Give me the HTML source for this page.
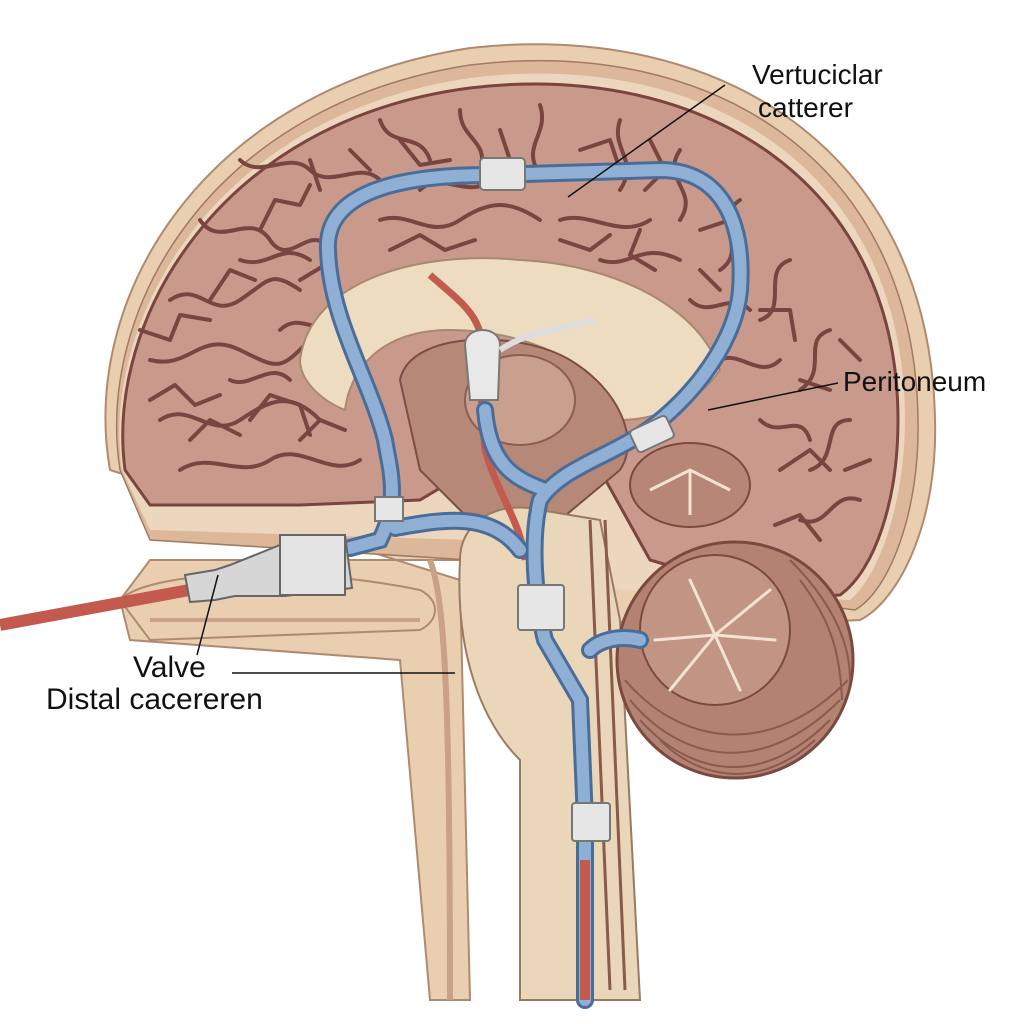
<!DOCTYPE html>
<html><head><meta charset="utf-8"><style>
html,body{margin:0;padding:0;background:#fff}
svg{display:block}
text{font-family:"Liberation Sans",sans-serif;fill:#111}
</style></head><body>
<svg width="1024" height="1024" viewBox="0 0 1024 1024" xmlns="http://www.w3.org/2000/svg">
<rect width="1024" height="1024" fill="#fff"/>
<path d="M110,470 C80,300 200,90 470,48 C720,20 930,150 935,420 C938,520 900,600 860,620 L640,630 L470,560 L150,560 L120,600 L130,640 L400,660 L430,1000 L470,1000 L460,580 Z" fill="#e9cfb0" stroke="#b08a70" stroke-width="2"/>
<path d="M120,470 C95,310 210,105 470,65 C710,35 915,160 918,420 C920,510 890,590 855,610 L470,560 L150,540 Z" fill="#dcb79a" stroke="#a07a62" stroke-width="1.5"/>
<path d="M122,470 C100,320 215,115 470,78 C705,48 905,170 905,420 C905,500 880,575 850,600 L620,590 L470,540 L150,530 Z" fill="#ecd6bd"/>
<path d="M125,470 C105,320 220,120 470,88 C700,60 898,180 898,420 C898,500 875,570 840,595 C780,600 720,580 650,560 L600,470 L470,470 L420,500 L300,505 L150,505 Z" fill="#c99a8c" stroke="#7a4540" stroke-width="3"/>
<g fill="none" stroke="#7a4540" stroke-width="4" stroke-linecap="round" stroke-linejoin="round">
<path d="M170,300 c30,-20 40,20 70,0 s30,-30 60,-10 M150,360 c40,10 50,-30 90,-10 s40,20 70,-10 M160,420 c30,-20 50,20 80,0 s50,-30 80,0"/>
<path d="M200,220 c20,30 50,-10 70,20 s40,-20 60,10 M240,160 c20,20 50,-10 70,10 s50,-10 70,10"/>
<path d="M380,120 c10,30 40,10 50,40 M460,110 c0,30 30,30 20,60 M540,105 c10,30 -20,40 0,70 M620,120 c-10,30 20,40 0,70"/>
<path d="M680,150 c-20,30 20,40 0,70 M740,200 c-30,20 10,50 -20,70 M790,260 c-30,10 0,50 -30,60 M830,330 c-30,10 0,40 -30,60 M850,420 c-30,0 -10,40 -40,50 M860,500 c-30,-10 -30,30 -60,20"/>
<path d="M180,470 c30,-20 60,10 90,-10 s60,20 90,0 M240,260 c30,10 40,-20 70,0 M280,330 c20,-20 40,10 60,-10 M230,380 c20,10 40,-20 60,0"/>
<path d="M560,220 c30,-10 60,20 90,0 M600,260 c30,10 40,-20 80,0 M690,300 c20,20 40,-10 60,10 M720,360 c20,-10 40,20 60,0 M760,420 c20,20 40,-10 50,20"/>
<path d="M380,220 c30,-10 50,20 80,0 s50,-20 80,0 M420,190 c20,-20 50,10 70,-10"/>
<path d="M140,330 l30,10 l10,-25 l30,5 M150,400 l25,-15 l20,20 l25,-10 M190,440 l20,-20 l30,15 M250,420 l20,-25 l30,10 l10,30 M300,440 l20,-20 l25,10"/>
<path d="M210,300 l20,-30 l25,10 M260,230 l15,-30 l25,5 l10,-20 M300,280 l25,-15 l15,25 M320,190 l-10,-30 M350,150 l20,20"/>
<path d="M400,140 l20,25 l30,-5 M500,130 l10,30 l-20,20 M580,150 l30,-10 l10,30 M650,140 l15,30 l-20,20 M700,230 l30,-10 l10,30 M760,310 l30,0 l5,30 M800,380 l30,10 M780,470 l30,-20 l20,20 M820,540 l-20,-25 l-25,10 M870,460 l-25,10 M860,360 l-20,-20"/>
<path d="M390,250 l30,-15 l25,15 l30,-10 M560,240 l30,10 l20,-15 M640,230 l-10,25 l25,15 M700,270 l20,20"/>
</g>
<path d="M300,360 C310,280 420,250 520,260 C620,265 700,310 720,370 C700,400 660,420 620,420 C600,360 520,330 450,330 C380,330 350,370 345,410 C320,400 300,380 300,360Z" fill="#eedcc0" stroke="#a98870" stroke-width="2"/>
<path d="M400,380 C410,330 520,330 570,360 C620,390 640,440 620,470 L560,520 L470,520 L420,470 Z" fill="#b58878" stroke="#7a4e44" stroke-width="2"/>
<ellipse cx="520" cy="400" rx="55" ry="45" fill="#c9a08e" stroke="#8a5e52" stroke-width="2"/>
<path d="M460,560 C460,520 500,500 540,510 L600,520 L620,620 L640,1000 L520,1000 L520,760 C480,720 455,650 460,560Z" fill="#ead6b8" stroke="#9a7a60" stroke-width="2"/>
<path d="M590,520 L610,990 M605,520 L625,990" stroke="#8a5a4a" stroke-width="3"/>
<path d="M430,560 C445,600 450,700 450,1000" stroke="#c9a088" stroke-width="6" fill="none"/>
<circle cx="735" cy="660" r="118" fill="#b48272" stroke="#7a4a40" stroke-width="3"/>
<g stroke="#8a5a4e" stroke-width="2" fill="none">
<path d="M630,700 C680,760 760,780 840,700 M625,680 C680,745 770,760 848,680 M640,720 C690,775 760,790 830,720 M660,740 C700,780 760,790 815,740 M790,560 C830,600 850,640 850,680 M800,580 C830,620 840,650 842,700"/>
</g>
<circle cx="715" cy="630" r="75" fill="#c29484" stroke="#7a4a40" stroke-width="2"/>
<g stroke="#f2e3d3" stroke-width="3" fill="none" stroke-linecap="round">
<path d="M655,640 L715,635 L770,590 M715,635 L740,690 M715,635 L690,580 M715,635 L670,690 M715,635 L775,640"/>
</g>
<ellipse cx="690" cy="485" rx="60" ry="42" fill="#b88676" stroke="#7a4a40" stroke-width="2"/>
<path d="M650,490 L690,470 L730,490 M690,470 L690,515" stroke="#f2e3d3" stroke-width="3" fill="none"/>
<path d="M120,600 C150,570 300,565 420,590 C440,600 440,620 420,630 L150,640 Z" fill="#e9cfb0" stroke="#b08a70" stroke-width="2"/>
<path d="M150,620 L420,620" stroke="#c9a088" stroke-width="4"/>
<path d="M0,625 L200,588" stroke="#c25a4e" stroke-width="12" fill="none"/>
<path d="M430,275 C470,310 490,320 480,380 L485,450 C500,500 520,520 525,560" stroke="#c25a4e" stroke-width="7" fill="none"/>
<g fill="none" stroke-linecap="round">
<path d="M350,548 L380,540 C400,500 390,470 385,440 C370,380 330,320 328,250 C325,200 380,175 490,175 L660,170 C720,170 745,220 740,290 C735,350 680,410 640,435 C600,460 560,470 540,500 C530,540 535,600 545,640 L580,700 L585,820 L585,1000 M395,528 C440,520 490,510 520,550 M485,410 C490,470 520,480 545,490 M590,650 C600,640 620,635 640,640"
 stroke="#4a6d98" stroke-width="18"/>
<path d="M350,548 L380,540 C400,500 390,470 385,440 C370,380 330,320 328,250 C325,200 380,175 490,175 L660,170 C720,170 745,220 740,290 C735,350 680,410 640,435 C600,460 560,470 540,500 C530,540 535,600 545,640 L580,700 L585,820 L585,1000 M395,528 C440,520 490,510 520,550 M485,410 C490,470 520,480 545,490 M590,650 C600,640 620,635 640,640"
 stroke="#8fb0d4" stroke-width="12"/>
</g>
<path d="M585,860 L585,1000" stroke="#c25a4e" stroke-width="10"/>
<rect x="480" y="158" width="45" height="32" rx="4" fill="#e6e6e6" stroke="#777" stroke-width="2"/>
<rect x="632" y="422" width="40" height="24" rx="4" fill="#e6e6e6" stroke="#777" stroke-width="2" transform="rotate(-25 652 434)"/>
<rect x="375" y="497" width="28" height="24" fill="#e6e6e6" stroke="#777" stroke-width="2"/>
<rect x="518" y="585" width="46" height="45" rx="3" fill="#e6e6e6" stroke="#777" stroke-width="2"/>
<rect x="572" y="803" width="38" height="38" rx="3" fill="#e6e6e6" stroke="#777" stroke-width="2"/>
<path d="M465,345 C465,325 500,325 500,345 L498,400 L470,400 Z" fill="#e8e8e8" stroke="#777" stroke-width="2"/>
<path d="M500,350 C530,330 560,330 595,320" stroke="#ddd" stroke-width="6" fill="none"/>
<path d="M185,575 L215,570 L230,565 L280,545 L345,535 L352,588 L285,596 L235,596 L215,600 L190,602 Z" fill="#d6d6d6" stroke="#666" stroke-width="2"/>
<rect x="280" y="535" width="65" height="60" fill="#e4e4e4" stroke="#666" stroke-width="2"/>
<g stroke="#111" stroke-width="1.5">
<line x1="725" y1="85" x2="568" y2="197"/>
<line x1="838" y1="383" x2="708" y2="410"/>
<line x1="218" y1="575" x2="197" y2="655"/>
<line x1="232" y1="673" x2="455" y2="673"/>
</g>
<text x="752" y="84" font-size="28">Vertuciclar</text>
<text x="758" y="117" font-size="28">catterer</text>
<text x="843" y="391" font-size="28">Peritoneum</text>
<text x="133" y="677" font-size="30">Valve</text>
<text x="46" y="709" font-size="30">Distal cacereren</text>
</svg>
</body></html>
